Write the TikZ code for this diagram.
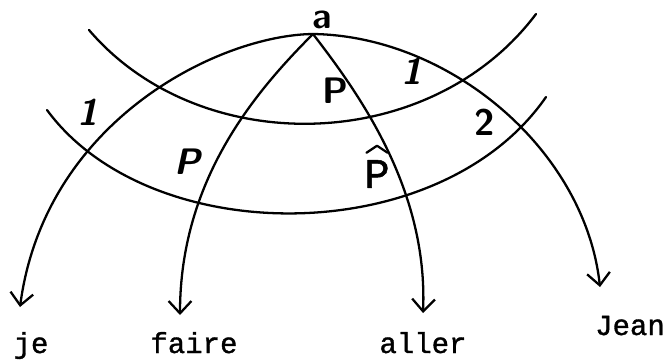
\documentclass[tikz,border=0pt]{standalone}
\usepackage{fontspec}
\newfontfamily\typew[FakeBold=1.2]{Liberation Mono}
\usetikzlibrary{arrows.meta}

\begin{document}
\begin{tikzpicture}[x=0.02cm,y=-0.02cm,>={Straight Barb[length=7pt,width=13pt]},line join=round,line cap=round,
  word/.style={font=\typew\fontsize{16.5}{18}\selectfont,anchor=base,inner sep=0pt},
  hand/.style={font=\sffamily\bfseries\fontsize{21}{23}\selectfont,inner sep=0pt},
  edge/.style={line width=1.3pt}]
\useasboundingbox (0,0) rectangle (671,359);
% root
\coordinate (a) at (313,34);
\node[hand,anchor=base] (alabel) at (322,28) {a};
% words
\node[word] (je) at (31,353) {je};
\node[word] (faire) at (194,353) {faire};
\node[word] (aller) at (423,353) {aller};
\node[word] (Jean) at (630,335) {Jean};
% arrow ends above the words
\coordinate (je-tip) at (20,307);
\coordinate (faire-tip) at (180,315);
\coordinate (aller-tip) at (423,313);
\coordinate (Jean-tip) at (600,287);
% branches
\draw[edge,->] (a) .. controls (220,35) and (45,120) .. (je-tip);
\draw[edge,->] (a) .. controls (255,92) and (180,180) .. (faire-tip);
\draw[edge,->] (a) .. controls (360,95) and (428,190) .. (aller-tip);
\draw[edge,->] (a) .. controls (450,36) and (585,150) .. (Jean-tip);
% the two bands
\draw[edge] (89,30) .. controls (200,160) and (430,155) .. (536,14);
\draw[edge] (47,110) .. controls (150,250) and (440,250) .. (546,97);
% labels in the bands
\node[hand] (one-left) at (88,112) {\slshape 1};
\node[hand] (p-left) at (187,162) {\slshape P};
\node[hand] (p-top) at (335,91) {P};
\node[hand] (one-right) at (412,71) {\slshape 1};
\node[hand] (two) at (485,122) {2};
\node[word,font=\typew\fontsize{24}{26}\selectfont,anchor=center] (p-hat) at (377,174) {P};
% hat over the P
\draw[line width=1.3pt] ([xshift=-6pt,yshift=4pt]p-hat.north) -- ([yshift=8pt]p-hat.north) -- ([xshift=6pt,yshift=4pt]p-hat.north);
\end{tikzpicture}
\end{document}
